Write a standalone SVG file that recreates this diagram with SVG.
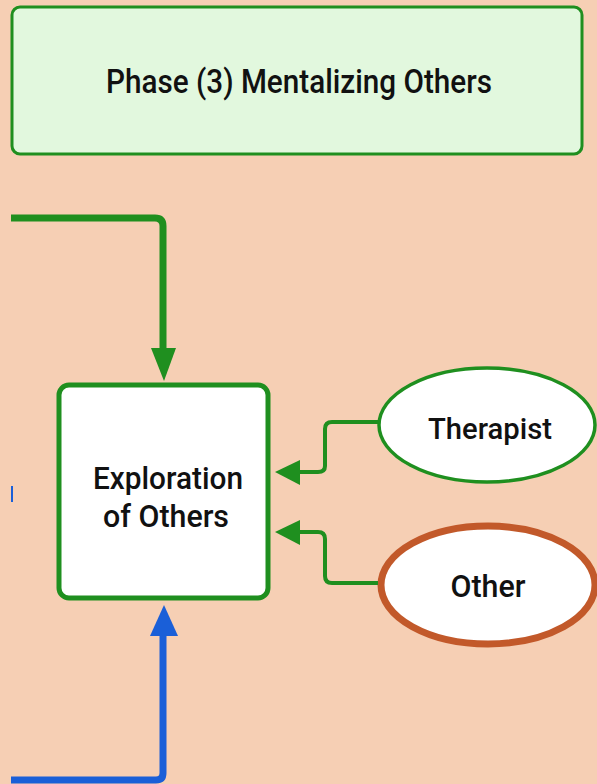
<svg xmlns="http://www.w3.org/2000/svg" width="597" height="784" viewBox="0 0 597 784">
<defs>
<style>
.lbl{font-family:Roboto,"Liberation Sans",sans-serif;font-weight:500;fill:#111;text-anchor:middle}
.g{fill:none;stroke:#1f8f1f;stroke-linejoin:round;stroke-linecap:butt}
.b{fill:none;stroke:#1a5fd8;stroke-linejoin:round}
</style>
</defs>
<rect width="597" height="784" fill="#f6cfb4"/>
<g id="phase-header">
<rect x="12" y="7" width="570" height="147" rx="8" fill="#e2f8de" stroke="#1f8f1f" stroke-width="3"/>
<text class="lbl" x="299" y="93" font-size="34" textLength="386" lengthAdjust="spacingAndGlyphs">Phase (3) Mentalizing Others</text>
</g>
<g id="exploration">
<rect x="59" y="385" width="209" height="213" rx="10" fill="#ffffff" stroke="#1f8f1f" stroke-width="5"/>
<text class="lbl" x="168" y="489" font-size="31" textLength="150" lengthAdjust="spacingAndGlyphs">Exploration</text>
<text class="lbl" x="166" y="527" font-size="31" textLength="126" lengthAdjust="spacingAndGlyphs">of Others</text>
</g>
<g id="therapist">
<ellipse cx="487" cy="425" rx="108" ry="57" fill="#ffffff" stroke="#1f8f1f" stroke-width="3.5"/>
<text class="lbl" x="490" y="439" font-size="30" textLength="124" lengthAdjust="spacingAndGlyphs">Therapist</text>
</g>
<g id="other">
<ellipse cx="488" cy="585" rx="107" ry="59" fill="#ffffff" stroke="#c2592a" stroke-width="7"/>
<text class="lbl" x="488" y="597" font-size="31" textLength="75" lengthAdjust="spacingAndGlyphs">Other</text>
</g>
<g id="connectors">
<path class="g" d="M11 218 H155 Q163 218 163 226 V350" stroke-width="7"/>
<polygon points="151,348 176,348 164,381" fill="#1f8f1f"/>
<path class="g" d="M378 422 H332 Q325 422 325 429 V466 Q325 472 318 472 H298" stroke-width="4"/>
<polygon points="300,460 300,485 275,472" fill="#1f8f1f"/>
<path class="g" d="M378 583 H332 Q325 583 325 576 V539 Q325 532 318 532 H298" stroke-width="4"/>
<polygon points="300,520 300,545 275,532" fill="#1f8f1f"/>
<path class="b" d="M11 780 H156 Q163 780 163 773 V634" stroke-width="7"/>
<polygon points="150,636 178,636 164,605" fill="#1a5fd8"/>
<line x1="12" y1="486" x2="12" y2="502" stroke="#1a5fd8" stroke-width="2"/>
</g>
</svg>
